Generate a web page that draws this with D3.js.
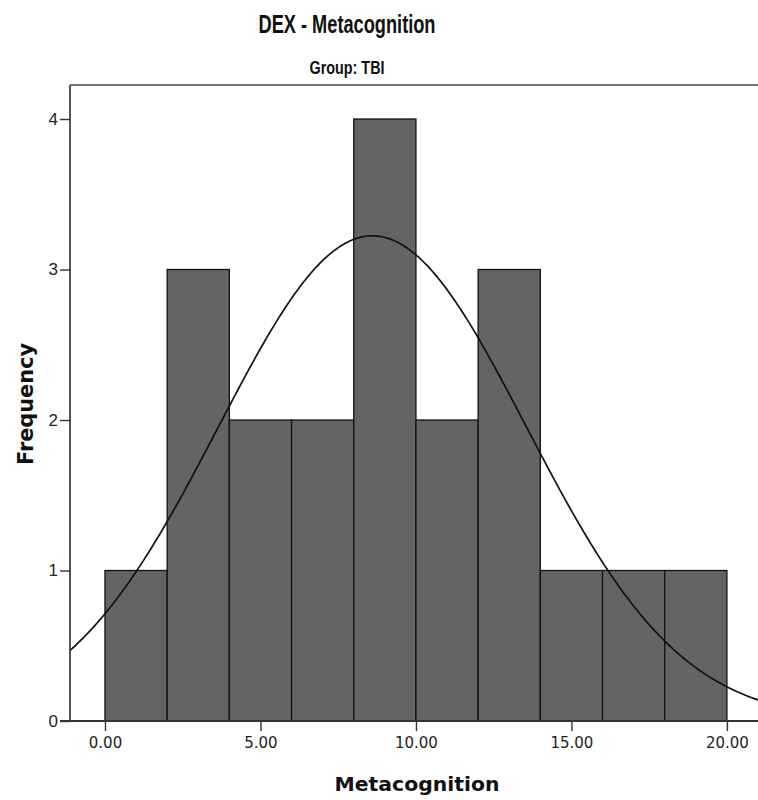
<!DOCTYPE html>
<html>
<head>
<meta charset="utf-8">
<script src="https://cdn.jsdelivr.net/npm/d3@7"></script>
<style>
  html, body { margin: 0; padding: 0; background: #fff; }
  svg { display: block; }
</style>
</head>
<body>
<script>
// Histogram bins of Metacognition scores (width 2) and their counts
const binStarts = [0, 2, 4, 6, 8, 10, 12, 14, 16, 18];
const binWidth = 2;
const counts = [1, 3, 2, 2, 4, 2, 3, 1, 1, 1];

// Axis ticks
const xTicks = [0, 5, 10, 15, 20];
const yTicks = [0, 1, 2, 3, 4];

// Fitted normal curve parameters
const fitMean = 8.6;
const fitSD = 4.95;

const W = 758, H = 800;
const plot = { left: 70, right: 758, top: 85, bottom: 721 };

const svg = d3.select("body").append("svg")
  .attr("width", W).attr("height", H);

const x = d3.scaleLinear().domain([-1.125, 21.0]).range([plot.left, plot.right]);
const y = d3.scaleLinear().domain([0, 4.226]).range([plot.bottom, plot.top]);

// Bars
svg.append("g").selectAll("rect")
  .data(binStarts.map((s, i) => ({ x0: s, x1: s + binWidth, n: counts[i] })))
  .join("rect")
  .attr("x", d => x(d.x0))
  .attr("y", d => y(d.n))
  .attr("width", d => x(d.x1) - x(d.x0))
  .attr("height", d => y(0) - y(d.n))
  .attr("fill", "#646464")
  .attr("stroke", "#111")
  .attr("stroke-width", 1.3);

// Normal curve scaled to counts (N * bin width * density)
const N = d3.sum(counts);
const dens = v => N * binWidth * Math.exp(-0.5 * ((v - fitMean) / fitSD) ** 2) / (fitSD * Math.sqrt(2 * Math.PI));
const [d0, d1] = x.domain();
const curvePts = d3.range(0, 301).map(i => d0 + (d1 - d0) * i / 300);
svg.append("path")
  .datum(curvePts)
  .attr("d", d3.line().x(v => x(v)).y(v => y(dens(v))))
  .attr("fill", "none")
  .attr("stroke", "#111")
  .attr("stroke-width", 1.7);

// Frame: top border
svg.append("line")
  .attr("x1", plot.left).attr("x2", plot.right)
  .attr("y1", plot.top).attr("y2", plot.top)
  .attr("stroke", "#444").attr("stroke-width", 1.6);

// Y axis
const yAxis = svg.append("g")
  .attr("transform", `translate(${plot.left},0)`)
  .call(d3.axisLeft(y).tickValues(yTicks).tickFormat(d3.format("d")).tickSize(10).tickPadding(2).tickSizeOuter(0));
yAxis.select(".domain").attr("d", `M0,${plot.bottom}V${plot.top}`).attr("stroke", "#444").attr("stroke-width", 1.8);
yAxis.selectAll(".tick line").attr("stroke", "#333").attr("stroke-width", 1.4);
yAxis.selectAll(".tick text")
  .attr("font-family", "'Liberation Sans', Arial, sans-serif")
  .attr("font-size", 17).attr("fill", "#222");

// X axis
const xAxis = svg.append("g")
  .attr("transform", `translate(0,${plot.bottom})`)
  .call(d3.axisBottom(x).tickValues(xTicks).tickFormat(d3.format(".2f")).tickSize(10).tickPadding(6).tickSizeOuter(0));
xAxis.select(".domain").attr("d", `M${plot.left - 10},0H${plot.right}`).attr("stroke", "#333").attr("stroke-width", 1.8);
xAxis.selectAll(".tick line").attr("stroke", "#333").attr("stroke-width", 1.4);
xAxis.selectAll(".tick text")
  .attr("font-family", "'DejaVu Sans', sans-serif")
  .attr("font-size", 15).attr("fill", "#222");

// Titles
svg.append("text")
  .attr("x", 347).attr("y", 33)
  .attr("text-anchor", "middle")
  .attr("font-family", "'Liberation Sans', Arial, sans-serif")
  .attr("font-weight", "bold").attr("font-size", 25)
  .attr("textLength", 177).attr("lengthAdjust", "spacingAndGlyphs")
  .attr("fill", "#111")
  .text("DEX - Metacognition");

svg.append("text")
  .attr("x", 347).attr("y", 74)
  .attr("text-anchor", "middle")
  .attr("font-family", "'Liberation Sans', Arial, sans-serif")
  .attr("font-weight", "bold").attr("font-size", 19)
  .attr("textLength", 75).attr("lengthAdjust", "spacingAndGlyphs")
  .attr("fill", "#111")
  .text("Group: TBI");

// Axis labels
svg.append("text")
  .attr("x", 417).attr("y", 791)
  .attr("text-anchor", "middle")
  .attr("font-family", "'DejaVu Sans', sans-serif")
  .attr("font-weight", "bold").attr("font-size", 20)
  .attr("textLength", 165).attr("lengthAdjust", "spacingAndGlyphs")
  .attr("fill", "#111")
  .text("Metacognition");

svg.append("text")
  .attr("transform", "translate(33,404) rotate(-90)")
  .attr("text-anchor", "middle")
  .attr("font-family", "'DejaVu Sans', sans-serif")
  .attr("font-weight", "bold").attr("font-size", 21)
  .attr("textLength", 122).attr("lengthAdjust", "spacingAndGlyphs")
  .attr("fill", "#111")
  .text("Frequency");
</script>
</body>
</html>
